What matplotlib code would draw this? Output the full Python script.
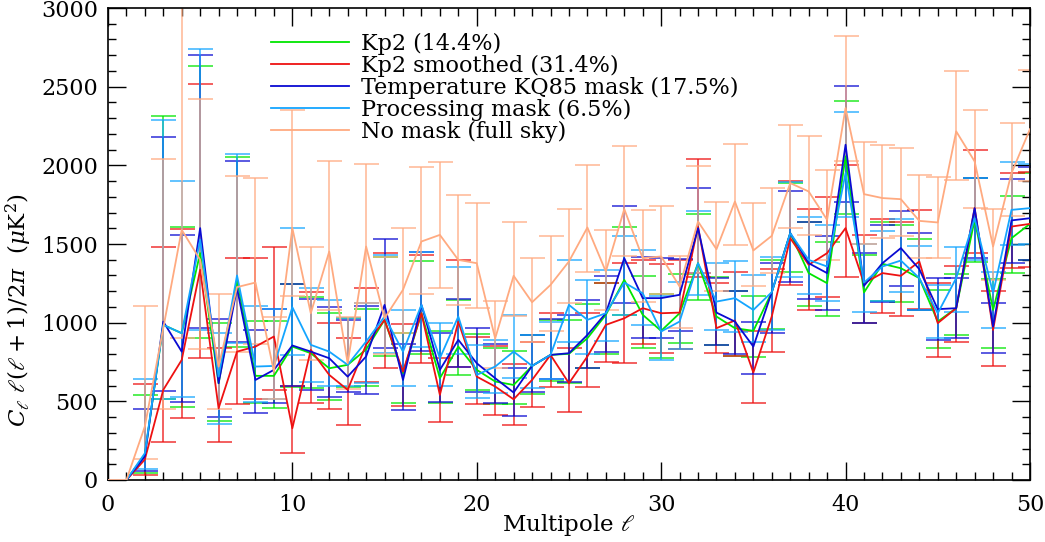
import numpy as np
import matplotlib
matplotlib.use("Agg")
import matplotlib.pyplot as plt
from matplotlib.ticker import MultipleLocator

plt.rcParams["font.family"] = ["DejaVu Serif"]
plt.rcParams["mathtext.fontset"] = "dejavuserif"

# multipoles 2..50 (l = 0, 1 are plotted as zero)
ell = np.arange(2, 51)

kp2 = [160, 986, 933, 1442, 615, 1272, 662, 662, 848, 806, 710, 732, 830, 1018, 679, 1060, 647, 848, 700, 626,
       604, 725, 795, 802, 901, 1050, 1272, 1050, 948, 1060, 1378, 1039, 965, 948, 1194, 1569, 1315, 1251, 2057, 1192,
       1374, 1346, 1283, 1007, 1092, 1654, 1081, 1537, 1628]
kp2_lo = [47, 513, 462, 901, 378, 848, 488, 456, 590, 583, 509, 590, 598, 785, 492, 802, 492, 668, 573, 484,
          484, 547, 632, 615, 710, 802, 1050, 842, 774, 869, 1145, 860, 789, 780, 960, 1325, 1103, 1043, 1690, 1001,
          1139, 1130, 1081, 842, 922, 1385, 842, 1315, 1399]
kp2_hi = [541, 2311, 1611, 2629, 1001, 2052, 1011, 1011, 1245, 1166, 1060, 1028, 1086, 1420, 933, 1389, 950, 1145, 930, 838,
          823, 920, 1020, 1018, 1120, 1251, 1611, 1298, 1180, 1310, 1690, 1290, 1200, 1170, 1399, 1890, 1640, 1510, 2411, 1431,
          1643, 1620, 1531, 1209, 1310, 1919, 1280, 1806, 1950]

kp2s = [130, 573, 763, 1336, 456, 816, 848, 912, 329, 827, 668, 573, 860, 1018, 689, 1060, 541, 1007, 657, 594,
        513, 636, 795, 615, 785, 986, 1028, 1092, 1060, 1064, 1611, 965, 1014, 683, 1040, 1537, 1368, 1442, 1601, 1251,
        1315, 1298, 1389, 997, 1092, 1728, 954, 1611, 1628]
kp2s_lo = [32, 242, 392, 774, 242, 481, 513, 573, 174, 492, 450, 350, 620, 715, 471, 742, 371, 721, 484, 414,
           350, 462, 594, 435, 594, 753, 742, 863, 810, 830, 1293, 810, 789, 492, 812, 1240, 1081, 1162, 1293, 1000,
           1060, 1043, 1090, 780, 880, 1442, 725, 1346, 1357]
kp2s_hi = [611, 1480, 1594, 2519, 842, 1410, 1410, 1480, 598, 1198, 1001, 901, 1219, 1442, 992, 1430, 774, 1399, 912, 850,
           740, 874, 1060, 838, 1064, 1250, 1380, 1400, 1374, 1400, 2040, 1250, 1321, 950, 1340, 1900, 1722, 1798, 2000, 1558,
           1660, 1640, 1717, 1250, 1361, 2099, 1200, 1951, 1960]

kq85 = [150, 1007, 816, 1601, 615, 1219, 636, 700, 855, 816, 774, 657, 785, 1113, 636, 1113, 700, 891, 742, 647,
        556, 725, 795, 806, 922, 1060, 1410, 1156, 1156, 1177, 1601, 1064, 1007, 848, 1194, 1569, 1378, 1315, 2131, 1234,
        1378, 1474, 1340, 1086, 1092, 1728, 975, 1650, 1664]
kq85_lo = [58, 568, 498, 969, 403, 874, 424, 488, 598, 573, 530, 562, 547, 838, 445, 823, 498, 721, 562, 492,
           407, 560, 640, 620, 710, 816, 1124, 905, 905, 948, 1315, 859, 800, 672, 933, 1257, 1149, 1081, 1770, 1001,
           1130, 1234, 1081, 891, 901, 1410, 810, 1382, 1399]
kq85_hi = [450, 2180, 1556, 2699, 1024, 2027, 954, 1086, 1245, 1149, 1098, 1014, 1107, 1531, 863, 1452, 933, 1149, 969, 865,
           715, 922, 1024, 1050, 1141, 1298, 1739, 1416, 1414, 1404, 1859, 1287, 1204, 1007, 1378, 1840, 1639, 1552, 2502, 1446,
           1618, 1711, 1573, 1283, 1283, 1919, 1128, 1912, 1990]

proc = [170, 986, 933, 1527, 657, 1300, 721, 725, 1098, 859, 816, 732, 880, 1039, 816, 1113, 774, 1039, 668, 721,
        816, 725, 795, 1113, 1018, 1060, 1255, 1187, 944, 1007, 1378, 1134, 1156, 1081, 1194, 1569, 1399, 1357, 1951, 1255,
        1357, 1395, 1283, 1060, 1283, 1664, 1187, 1717, 1728]
proc_lo = [68, 513, 530, 954, 356, 869, 498, 513, 795, 621, 598, 598, 619, 810, 600, 848, 598, 800, 524, 551,
           651, 583, 640, 880, 800, 884, 1050, 986, 760, 831, 1177, 954, 940, 880, 954, 1290, 1181, 1139, 1669, 1071,
           1139, 1198, 1081, 900, 1071, 1400, 965, 1495, 1500]
proc_hi = [640, 2290, 1898, 2739, 933, 2069, 1103, 1086, 1601, 1219, 1141, 1028, 1128, 1430, 1081, 1452, 1001, 1351, 859, 891,
           1050, 922, 1007, 1399, 1272, 1332, 1552, 1463, 1170, 1260, 1711, 1378, 1389, 1300, 1420, 1891, 1671, 1618, 2336, 1499,
           1582, 1660, 1489, 1240, 1480, 1919, 1319, 2019, 2008]

nomask = [340, 965, 1590, 1400, 721, 1226, 1255, 689, 1601, 1060, 1452, 742, 1484, 1028, 1209, 1516, 1558, 1399, 1378, 900,
          1298, 1130, 1240, 1389, 1605, 1325, 1722, 1410, 1421, 1230, 1643, 1467, 1770, 1459, 1552, 1887, 1834, 1654, 2364, 1817,
          1792, 1785, 1647, 1637, 2216, 2025, 1484, 1951, 2230]
nomask_lo = [132, 454, 900, 831, 454, 816, 863, 513, 1170, 763, 1081, 577, 1128, 800, 933, 1181, 1219, 1113, 1092, 712,
             1043, 880, 950, 1124, 1321, 1080, 1421, 1130, 1181, 965, 1315, 1200, 1491, 1234, 1315, 1601, 1558, 1400, 2029, 1500,
             1541, 1550, 1410, 1410, 1908, 1728, 1272, 1679, 1900]
nomask_hi = [1103, 2040, 3300, 2421, 1181, 1934, 1919, 1033, 2349, 1480, 2029, 1033, 2010, 1420, 1601, 1989, 2021, 1809, 1760, 1140,
             1640, 1411, 1552, 1722, 2000, 1590, 2120, 1717, 1739, 1421, 1993, 1770, 2137, 1760, 1859, 2258, 2188, 1968, 2820, 2148,
             2127, 2110, 1940, 1929, 2597, 2349, 1722, 2269, 2608]

labels = ["Kp2 (14.4%)", "Kp2 smoothed (31.4%)", "Temperature KQ85 mask (17.5%)",
          "Processing mask (6.5%)", "No mask (full sky)"]
colors = ["#00e600", "#ee1111", "#0a0ad2", "#14a5ff", "#ffaa80"]
series = [(kp2, kp2_lo, kp2_hi), (kp2s, kp2s_lo, kp2s_hi), (kq85, kq85_lo, kq85_hi),
          (proc, proc_lo, proc_hi), (nomask, nomask_lo, nomask_hi)]

fig = plt.figure(figsize=(10.45, 5.42), dpi=100)
ax = fig.add_axes([0.1033, 0.1144, 0.8823, 0.8708])

order = [4, 1, 0, 3, 2]
for i in order:
    v, lo, hi = series[i]
    v = np.array(v, float)
    lo = np.array(lo, float)
    hi = np.array(hi, float)
    x_all = np.concatenate([[0, 1], ell])
    y_all = np.concatenate([[0, 0], v])
    ax.errorbar(ell, v, yerr=[v - lo, hi - v], fmt="none", ecolor=colors[i],
                elinewidth=1.1, capsize=9, capthick=1.1, alpha=0.85, zorder=2 + i * 0.1)
    ax.plot(x_all, y_all, color=colors[i], lw=1.3, label=labels[i], zorder=3 + i * 0.1)

ax.set_xlim(0, 50)
ax.set_ylim(0, 3000)
ax.xaxis.set_major_locator(MultipleLocator(10))
ax.xaxis.set_minor_locator(MultipleLocator(1))
ax.yaxis.set_major_locator(MultipleLocator(500))
ax.yaxis.set_minor_locator(MultipleLocator(100))
ax.tick_params(which="both", direction="in", top=True, right=True, labelsize=16, width=1)
ax.tick_params(axis="x", which="major", pad=10)
ax.tick_params(axis="y", which="major", pad=7)
ax.tick_params(which="major", length=13)
ax.tick_params(which="minor", length=6)
for s in ax.spines.values():
    s.set_linewidth(1.2)

ax.set_xlabel(r"Multipole $\ell$", fontsize=16.5)
ax.xaxis.set_label_coords(0.5, -0.068)
ax.set_ylabel(r"$C_\ell\ \ell(\ell+1)/2\pi\ \ (\mu\mathrm{K}^2)$", fontsize=16.5)
ax.yaxis.set_label_coords(-0.08, 0.36)

h, l = ax.get_legend_handles_labels()
idx = [l.index(t) for t in labels]
ax.legend([h[k] for k in idx], labels, loc="upper left", bbox_to_anchor=(0.177, 0.948),
          frameon=False, fontsize=16, handlelength=3.5, handletextpad=0.55,
          labelspacing=0.0, borderpad=0, borderaxespad=0)

fig.savefig("out.png", dpi=100)
